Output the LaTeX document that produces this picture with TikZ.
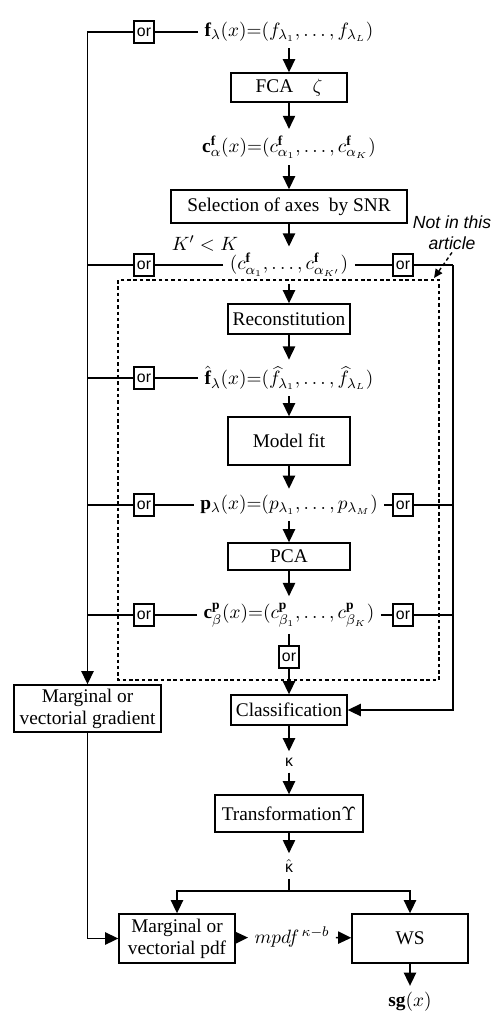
\documentclass[tikz,border=0pt]{standalone}
\usepackage{fontspec}
\setmainfont{Liberation Serif}
\setsansfont{Liberation Sans}
\usetikzlibrary{arrows.meta}
\tikzstyle{block} = [draw, thick, align=center, inner sep=1pt]
\tikzstyle{orbox} = [draw, thick, font=\sffamily\small, minimum width=0.4cm,
  minimum height=0.44cm, inner sep=0pt]
\tikzstyle{flow} = [thick, -{Triangle[length=7.5pt,width=7pt]}]
\tikzstyle{flowchart} = [x=0.02cm, y=-0.02cm, thick,
  every node/.append style={font=\fontsize{11pt}{12.5pt}\selectfont}]

\begin{document}
\begin{tikzpicture}[flowchart]
    \useasboundingbox (0,0) rectangle (498,1025);

    % Main chain
    \node (fvec) at (289,32) {$\mathbf{f}_{\lambda}(x){=}(f_{\lambda_1},\ldots,f_{\lambda_L})$};
    \node[block, minimum width=2.32cm, minimum height=0.58cm] (fca) at (289,87.5) {FCA\quad $\zeta$};
    \node (cvec) at (289,147) {$\mathbf{c}^{\mathbf{f}}_{\alpha}(x){=}(c^{\mathbf{f}}_{\alpha_1},\ldots,c^{\mathbf{f}}_{\alpha_K})$};
    \node[block, minimum width=4.72cm, minimum height=0.66cm] (select) at (289,206.5) {Selection of axes\ \ by SNR};
    \node (kcond) at (205,243) {$K'<K$};
    \node (csel) at (289,265) {$(c^{\mathbf{f}}_{\alpha_1},\ldots,c^{\mathbf{f}}_{\alpha_{K'}})$};
    \node[block, minimum width=2.44cm, minimum height=0.6cm] (recon) at (289,319) {Reconstitution};
    \node (fhat) at (289,378) {$\hat{\mathbf{f}}_{\lambda}(x){=}(\widehat{f}_{\lambda_1},\ldots,\widehat{f}_{\lambda_L})$};
    \node[block, minimum width=2.44cm, minimum height=0.96cm] (modelfit) at (289,441) {Model fit};
    \node (pvec) at (289,505) {$\mathbf{p}_{\lambda}(x){=}(p_{\lambda_1},\ldots,p_{\lambda_M})$};
    \node[block, minimum width=2.44cm, minimum height=0.54cm] (pca) at (289,556.5) {PCA};
    \node (cp) at (289,615) {$\mathbf{c}^{\mathbf{p}}_{\beta}(x){=}(c^{\mathbf{p}}_{\beta_1},\ldots,c^{\mathbf{p}}_{\beta_K})$};
    \node[block, minimum width=2.32cm, minimum height=0.6cm] (classif) at (289,710) {Classification};
    \node[font=\sffamily\small] (kappa) at (289,762) {κ};
    \node[block, minimum width=2.96cm, minimum height=0.74cm] (transf) at (289,813.5) {Transformation$\Upsilon$};
    \node[font=\small] (kappahat) at (289,866) {$\hat{\textsf{κ}}$};
    \coordinate (branch) at (289,891);

    % Bottom row
    \node[block, minimum width=2.94cm, minimum height=0.94cm] (gradient) at (87.5,708.5) {Marginal or\\vectorial gradient};
    \node[block, minimum width=2.32cm, minimum height=0.98cm] (pdf) at (177,938.5) {Marginal or\\vectorial pdf};
    \node[block, minimum width=2.32cm, minimum height=0.98cm] (ws) at (410,938.5) {WS};
    \node (mpdf) at (292,937) {$mpdf^{\,\kappa-b}$};
    \node (sg) at (410,1002) {$\mathbf{sg}(x)$};

    % Or boxes
    \node[orbox] (or1) at (144,32) {or};
    \node[orbox] (or2) at (144,265) {or};
    \node[orbox] (or2r) at (403,265) {or};
    \node[orbox] (or3) at (144,378) {or};
    \node[orbox] (or4) at (144,505) {or};
    \node[orbox] (or4r) at (403,505) {or};
    \node[orbox] (or5) at (144,615) {or};
    \node[orbox] (or5r) at (403,615) {or};
    \node[orbox] (or6) at (289,657) {or};
    \coordinate (rcorner) at (453,265);

    % Not in this article
    \draw[dash pattern=on 2pt off 1.6pt] (118,280) rectangle (439,680);
    \node[font=\sffamily\itshape, align=center, inner sep=1pt] (note) at (452,233) {Not in this\\article};
    \draw[dash pattern=on 2pt off 1.6pt, -{Triangle[length=5pt,width=4.5pt]}] (note.south) -- (434,278);

    % Arrows
    \draw[flow] (fvec) -- (fca);
    \draw[flow] (fca) -- (cvec);
    \draw[flow] (cvec) -- (select);
    \draw[flow] (select) -- (csel);
    \draw[flow] (csel) -- (recon);
    \draw[flow] (recon) -- (fhat);
    \draw[flow] (fhat) -- (modelfit);
    \draw[flow] (modelfit) -- (pvec);
    \draw[flow] (pvec) -- (pca);
    \draw[flow] (pca) -- (cp);
    \draw (cp) -- (or6);
    \draw[flow] (or6) -- (classif);
    \draw[flow] (classif) -- (kappa);
    \draw[flow] (kappa) -- (transf);
    \draw[flow] (transf) -- (kappahat);
    \draw (kappahat) -- (branch);
    \draw[flow] (branch) -| (pdf);
    \draw[flow] (branch) -| (ws);
    \draw[flow] (pdf) -- (mpdf);
    \draw[flow] (mpdf) -- (ws);
    \draw[flow] (ws) -- (sg);

    % Left side
    \draw (fvec) -- (or1);
    \draw[flow] (or1) -| (gradient);
    \draw (csel) -- (or2) -- (or2 -| gradient);
    \draw (fhat) -- (or3) -- (or3 -| gradient);
    \draw (pvec) -- (or4) -- (or4 -| gradient);
    \draw (cp) -- (or5) -- (or5 -| gradient);
    \draw[flow] (gradient) |- (pdf);

    % Right side
    \draw (csel) -- (or2r) -- (rcorner);
    \draw[flow] (rcorner) |- (classif);
    \draw (pvec) -- (or4r) -- (or4r -| rcorner);
    \draw (cp) -- (or5r) -- (or5r -| rcorner);
\end{tikzpicture}
\end{document}
